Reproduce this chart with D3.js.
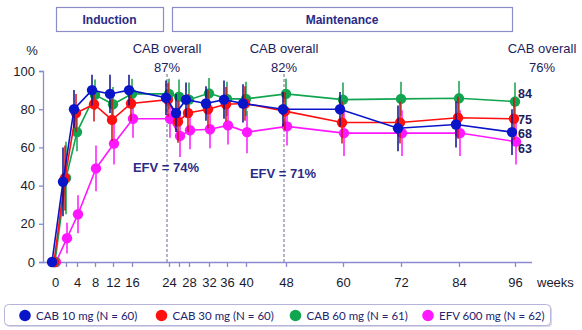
<!DOCTYPE html>
<html>
<head>
<meta charset="utf-8">
<script src="https://cdn.jsdelivr.net/npm/d3@7"></script>
<style>
  body { margin: 0; background: #fff; }
  svg { display: block; font-family: "Liberation Sans", Arial, sans-serif; }
</style>
</head>
<body>
<svg id="chart" width="582" height="330"></svg>
<script>
// Study visits (weeks) and the labelled subset on the axis
const weeks = [0, 2, 4, 8, 12, 16, 24, 26, 28, 32, 36, 40, 48, 60, 72, 84, 96];
const labelWeeks = [0, 4, 8, 12, 16, 24, 28, 32, 36, 40, 48, 60, 72, 84, 96];
const yTicks = [0, 20, 40, 60, 80, 100];

// Percentage with HIV-1 RNA < 50 c/mL per arm, with CI half-widths
const cab10 = [0, 42, 80, 90, 88, 90, 86, 78, 85, 83, 85, 83, 80, 80, 70, 72, 68];
const cab10Err = [0, 18, 10, 8, 10, 8, 9, 10, 9, 9, 10, 10, 9, 9, 12, 12, 12];
const cab30 = [0, 44, 78, 82.6, 74.4, 83, 85, 73.5, 78, 80, 82.6, 83, 79, 73, 73, 75.5, 75];
const cab30Err = [0, 17, 10, 9, 11, 9, 9, 11, 10, 10, 9, 9, 10, 11, 11, 11, 11];
const cab60 = [0, 44, 68, 87.5, 82.6, 88, 88, 86.6, 85, 88.3, 85.4, 85.4, 88, 85, 85.4, 85.7, 84];
const cab60Err = [0, 19, 10, 8, 9, 8, 8, 9, 9, 8, 9, 9, 8, 9, 9, 9, 10];
const efv = [0, 12.5, 25, 49, 62, 75, 75, 66, 69, 69.5, 71.5, 68, 71, 67.5, 67.5, 67.5, 63];
const efvErr = [0, 8, 10, 12, 11, 10, 10, 11, 10, 10, 10, 11, 10, 12, 12, 12, 12];

const seriesNames = ["CAB 10 mg (N = 60)", "CAB 30 mg (N = 60)", "CAB 60 mg (N = 61)", "EFV 600 mg (N = 62)"];
const seriesColors = ["#0a14c8", "#ff1010", "#12a550", "#ff18ff"];
const barColors = ["#0c0c8a", "#d01010", "#14a04c", "#ff18ff"];
const endLabels = ["68", "75", "84", "63"];

// Phase headers and overall-response notes
const phases = [
  { name: "Induction", from: 56, to: 163 },
  { name: "Maintenance", from: 172, to: 512 }
];
const overallNotes = [
  { week: 24, line1: "CAB  overall", line2: "87%" },
  { week: 48, line1: "CAB overall", line2: "82%" },
  { week: 96, line1: "CAB overall", line2: "76%" }
];
const efvNotes = [
  { week: 24, text: "EFV = 74%" },
  { week: 48, text: "EFV = 71%" }
];

const svg = d3.select("#chart");
const ink = "#1c1c5c";
const axisColor = "#8a8ad0";

// x axis is stretched during induction, compressed afterwards
const x = d3.scaleLinear()
  .domain(labelWeeks)
  .range([55, 77, 95, 113, 132, 169, 189, 209, 227, 246, 286, 343, 401, 459, 515]);
const y = d3.scaleLinear().domain([0, 100]).range([262, 71]);

// small horizontal nudge per arm so bars don't overlap entirely
const nudge = [-3, -1, 0, 1];

// header boxes
phases.forEach((p) => {
  svg.append("rect")
    .attr("x", p.from + 0.5).attr("y", 7.5)
    .attr("width", p.to - p.from).attr("height", 24)
    .attr("fill", "#fff").attr("stroke", "#8c8cc8").attr("stroke-width", 1.2);
  svg.append("text")
    .attr("x", (p.from + p.to) / 2).attr("y", 24)
    .attr("text-anchor", "middle")
    .attr("font-size", 12).attr("font-weight", "bold")
    .attr("fill", "#2a2a86")
    .text(p.name);
});

// y axis
const yAxis = svg.append("g")
  .attr("transform", "translate(43,0)")
  .call(d3.axisLeft(y).tickValues(yTicks).tickSize(4).tickPadding(4));
yAxis.select(".domain").attr("stroke", axisColor).attr("stroke-width", 1.3);
yAxis.selectAll(".tick line").attr("stroke", axisColor).attr("stroke-width", 1.3);
yAxis.selectAll(".tick text")
  .attr("font-size", 13).attr("fill", "#1a1a2e")
  .attr("font-family", "Liberation Sans, Arial, sans-serif");

svg.append("text")
  .attr("x", 32).attr("y", 55)
  .attr("text-anchor", "middle")
  .attr("font-size", 13).attr("fill", "#1a1a2e")
  .text("%");

// x axis
const xAxis = svg.append("g")
  .attr("transform", "translate(0,262)")
  .call(d3.axisBottom(x).tickValues(weeks).tickSize(5).tickPadding(11)
    .tickFormat((d) => (labelWeeks.includes(d) ? d : "")));
xAxis.select(".domain")
  .attr("d", "M43,0.5H532")
  .attr("stroke", axisColor).attr("stroke-width", 1.3);
xAxis.selectAll(".tick line").attr("stroke", axisColor).attr("stroke-width", 1.3);
xAxis.selectAll(".tick text")
  .attr("font-size", 13).attr("fill", "#1a1a2e")
  .attr("font-family", "Liberation Sans, Arial, sans-serif");

svg.append("text")
  .attr("x", 537).attr("y", 287)
  .attr("font-size", 13).attr("fill", "#1a1a2e")
  .text("weeks");

// dashed markers at the primary and secondary endpoints
efvNotes.forEach((n) => {
  svg.append("line")
    .attr("x1", x(n.week) - 2).attr("x2", x(n.week) - 2)
    .attr("y1", 74).attr("y2", 262)
    .attr("stroke", "#6a6a8a").attr("stroke-width", 1)
    .attr("stroke-dasharray", "3,2");
});

// overall response notes above the plot
overallNotes.forEach((n) => {
  const cx = n.week === 96 ? 542 : x(n.week) - 2;
  svg.append("text")
    .attr("x", cx).attr("y", 53)
    .attr("text-anchor", "middle")
    .attr("font-size", 13).attr("fill", ink)
    .text(n.line1);
  svg.append("text")
    .attr("x", cx).attr("y", 72)
    .attr("text-anchor", "middle")
    .attr("font-size", 13).attr("fill", ink)
    .text(n.line2);
});

efvNotes.forEach((n, i) => {
  svg.append("text")
    .attr("x", x(n.week) - 3).attr("y", i === 0 ? 172 : 178)
    .attr("text-anchor", "middle")
    .attr("font-size", 13).attr("font-weight", "bold").attr("fill", "#2a2a86")
    .text(n.text);
});

// series, drawn back to front
const series = [cab10, cab30, cab60, efv];
const errs = [cab10Err, cab30Err, cab60Err, efvErr];
const drawOrder = [3, 2, 1, 0];

drawOrder.forEach((s) => {
  const pts = weeks.map((w, i) => ({ w, v: series[s][i], e: errs[s][i] }));
  const g = svg.append("g");
  const px = (d) => x(d.w) + nudge[s];

  g.append("path")
    .datum(pts)
    .attr("fill", "none")
    .attr("stroke", seriesColors[s])
    .attr("stroke-width", 1.6)
    .attr("d", d3.line().x(px).y((d) => y(d.v)));

  g.selectAll("line.err")
    .data(pts.filter((d) => d.e > 0))
    .join("line")
    .attr("class", "err")
    .attr("x1", px).attr("x2", px)
    .attr("y1", (d) => y(d.v + d.e))
    .attr("y2", (d) => y(d.v - d.e))
    .attr("stroke", barColors[s])
    .attr("stroke-width", 1.5);

  g.selectAll("circle")
    .data(pts)
    .join("circle")
    .attr("cx", px)
    .attr("cy", (d) => y(d.v))
    .attr("r", 5.2)
    .attr("fill", seriesColors[s]);
});

// end-of-study values at week 96
const endShift = [6, 5, -4, 11];
[2, 1, 0, 3].forEach((s) => {
  const v = series[s][series[s].length - 1];
  svg.append("text")
    .attr("x", 518)
    .attr("y", y(v) + endShift[s])
    .attr("font-size", 12.5).attr("font-weight", "bold").attr("fill", ink)
    .text(endLabels[s]);
});

// legend
const legend = svg.append("g");
legend.append("rect")
  .attr("x", 6).attr("y", 306).attr("width", 546).attr("height", 21)
  .attr("rx", 4).attr("fill", "#d8d8e4");
legend.append("rect")
  .attr("x", 4.5).attr("y", 304.5).attr("width", 546).attr("height", 21)
  .attr("rx", 4).attr("fill", "#fff").attr("stroke", "#b4b4dc");

const legendX = [25, 161.5, 295.5, 428];
seriesNames.forEach((name, s) => {
  legend.append("circle")
    .attr("cx", legendX[s]).attr("cy", 315.5).attr("r", 5.8)
    .attr("fill", seriesColors[s]);
  legend.append("text")
    .attr("x", legendX[s] + 11).attr("y", 319.5)
    .attr("font-family", "Lato, 'Open Sans', sans-serif")
    .attr("font-size", 11.5).attr("fill", "#23236e")
    .text(name);
});
</script>
</body>
</html>
